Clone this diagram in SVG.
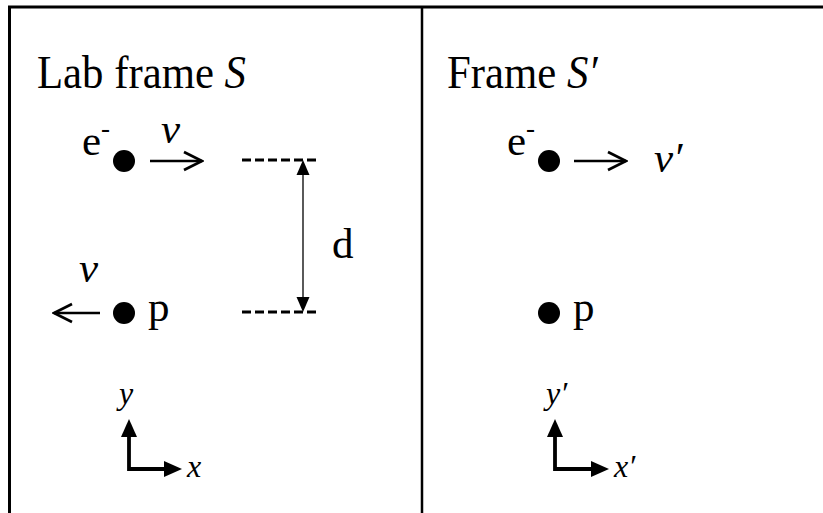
<svg xmlns="http://www.w3.org/2000/svg" width="823" height="513" viewBox="0 0 823 513">
<style>
text{font-family:"Liberation Serif","Times New Roman",serif;fill:#000}
.t{font-size:46px}
.l{font-size:43px}
.i{font-style:italic}
.ax{font-size:32px;font-style:italic}
.frame{fill:none;stroke:#000;stroke-width:3}
.vel{stroke:#000;stroke-width:2.7;fill:none}
.axis{stroke:#000;stroke-width:3.8;fill:none}
.dash{stroke:#000;stroke-width:3;stroke-dasharray:9 4}
.dim{stroke:#000;stroke-width:1.3}
</style>
<defs>
<marker id="open" markerUnits="userSpaceOnUse" markerWidth="24" markerHeight="24" viewBox="-22 -12 24 24" refX="0" refY="0" orient="auto">
<path d="M-18,-9 L0,0 L-18,9" fill="none" stroke="#000" stroke-width="2.7" stroke-linejoin="miter"/>
</marker>
<marker id="tri" markerUnits="userSpaceOnUse" markerWidth="20" markerHeight="18" viewBox="0 -9 20 18" refX="0" refY="0" orient="auto-start-reverse">
<path d="M0,-8 L18,0 L0,8 Z" fill="#000"/>
</marker>
<marker id="dtri" markerUnits="userSpaceOnUse" markerWidth="16" markerHeight="14" viewBox="0 -7 16 14" refX="0" refY="0" orient="auto-start-reverse">
<path d="M0,-6.5 L15,0 L0,6.5 Z" fill="#000"/>
</marker>
</defs>
<g id="frames">
<path class="frame" d="M9.5,830 V7 H830"/>
<line x1="422" y1="7" x2="422" y2="520" stroke="#000" stroke-width="2.5"/>
</g>
<g id="title-S"><text class="t" transform="translate(37,88) scale(0.93,1)">Lab frame <tspan class="i">S</tspan></text></g>
<g id="title-Sp"><text class="t" transform="translate(447,88) scale(0.93,1)">Frame <tspan class="i">S′</tspan></text></g>
<g id="electron-S">
<circle cx="124" cy="161" r="11"/>
<text class="l" x="82" y="155">e<tspan font-size="27" dy="-18">-</tspan></text>
</g>
<g id="proton-S">
<circle cx="124" cy="313" r="11"/>
<text class="l" x="148" y="321">p</text>
</g>
<g id="electron-Sp">
<circle cx="549" cy="161" r="11"/>
<text class="l" x="507" y="155">e<tspan font-size="27" dy="-18">-</tspan></text>
</g>
<g id="proton-Sp">
<circle cx="549" cy="313" r="11"/>
<text class="l" x="573" y="321">p</text>
</g>
<g id="connectors">
<line class="vel" x1="150" y1="161" x2="202" y2="161" marker-end="url(#open)"/>
<line class="vel" x1="100" y1="313" x2="54" y2="313" marker-end="url(#open)"/>
<line class="vel" x1="574" y1="161" x2="626" y2="161" marker-end="url(#open)"/>
<line class="dash" x1="242" y1="160" x2="318" y2="160"/>
<line class="dash" x1="242" y1="312" x2="318" y2="312"/>
<line class="dim" x1="303" y1="175" x2="303" y2="297" marker-start="url(#dtri)" marker-end="url(#dtri)"/>
<path class="axis" d="M129,437 V469 H164" marker-start="url(#tri)" marker-end="url(#tri)"/>
<path class="axis" d="M555,437 V469 H591" marker-start="url(#tri)" marker-end="url(#tri)"/>
</g>
<g id="labels">
<text class="l i" x="161" y="143">v</text>
<text class="l i" x="79" y="282">v</text>
<text class="l i" x="654" y="172">v′</text>
<text class="l" x="332" y="258">d</text>
<text class="ax" x="119" y="404">y</text>
<text class="ax" x="187" y="477">x</text>
<text class="ax" x="546" y="404">y′</text>
<text class="ax" x="614" y="477">x′</text>
</g>
</svg>
